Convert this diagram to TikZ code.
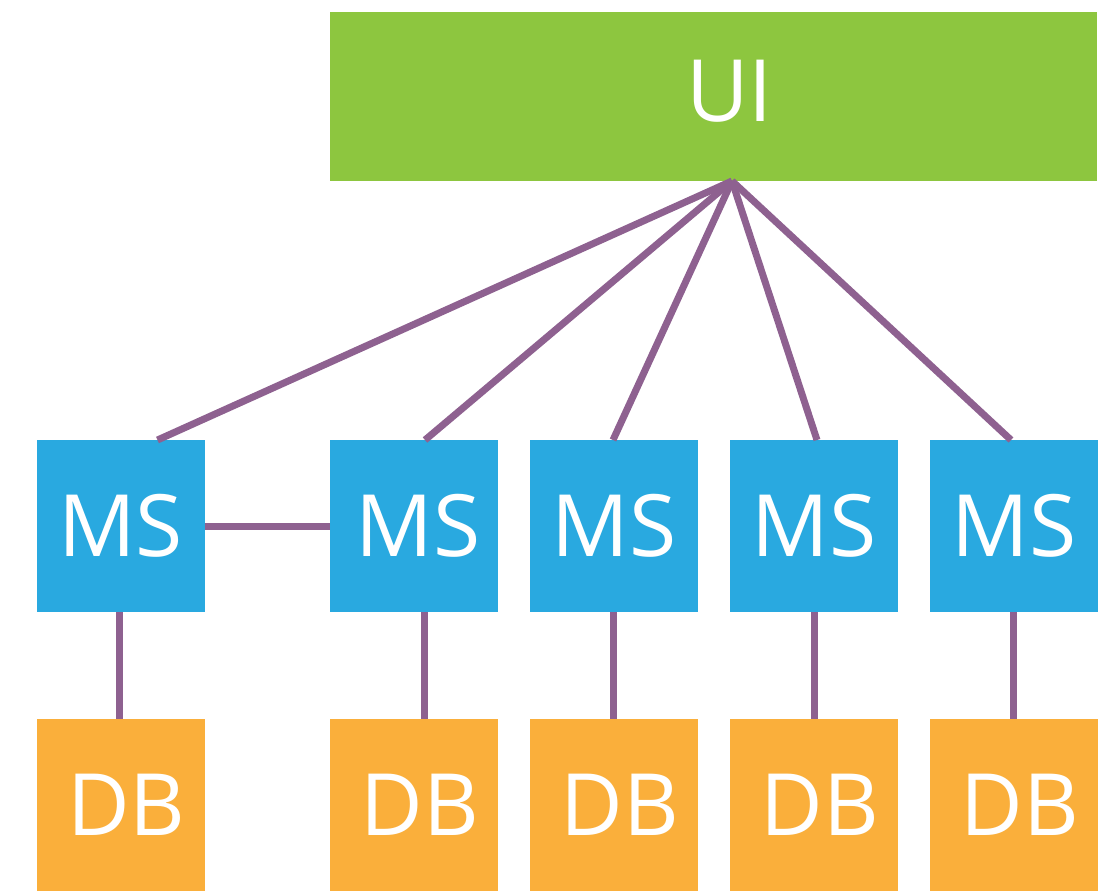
\documentclass[tikz,border=0pt]{standalone}
\usepackage{fontspec}
\setmainfont{Open Sans}
\usepackage{tikz}
\usetikzlibrary{positioning}
\definecolor{uigreen}{HTML}{8DC63F}
\definecolor{msblue}{HTML}{29A9E0}
\definecolor{dborange}{HTML}{FAAF3B}
\definecolor{linkpurple}{HTML}{8E6190}

\begin{document}
\begin{tikzpicture}[
  x=1pt, y=-1pt,
  node distance=107pt and 32pt,
  box/.style={inner sep=0pt, outer sep=0pt, text=white,
              font=\fontsize{86}{86}\selectfont,
              minimum width=168pt, minimum height=172pt},
  ms/.style={box, fill=msblue},
  db/.style={box, fill=dborange},
  link/.style={draw=linkpurple, line width=7pt},
]
\useasboundingbox (0,0) rectangle (1099,891);
\node[box, fill=uigreen, minimum width=767pt, minimum height=169pt] (ui) at (713.5,96.5)
  {\hspace*{32pt}\raisebox{12pt}{UI}};
\node[ms] (ms1) at (120.5,526) {MS};
\node[ms] (ms2) at (414,526) {\hspace*{8pt}MS};
\node[ms, right=of ms2] (ms3) {MS};
\node[ms, right=of ms3] (ms4) {MS};
\node[ms, right=of ms4] (ms5) {MS};
\foreach \i in {1,...,5}
  \node[db, below=of ms\i] (db\i) {\hspace*{12pt}DB};
\coordinate (hub) at ([xshift=18.5pt]ui.south);
\foreach \n/\dx in {ms1/37, ms2/11, ms3/-1, ms4/3, ms5/-3}
  \draw[link] (hub) -- ([xshift=\dx pt]\n.north);
\draw[link] (ms1) -- (ms2);
\foreach \i/\dx in {1/-1, 2/10, 3/-1, 4/0, 5/-1}
  \draw[link] ([xshift=\dx pt]ms\i.south) -- ([xshift=\dx pt]db\i.north);
\end{tikzpicture}
\end{document}
